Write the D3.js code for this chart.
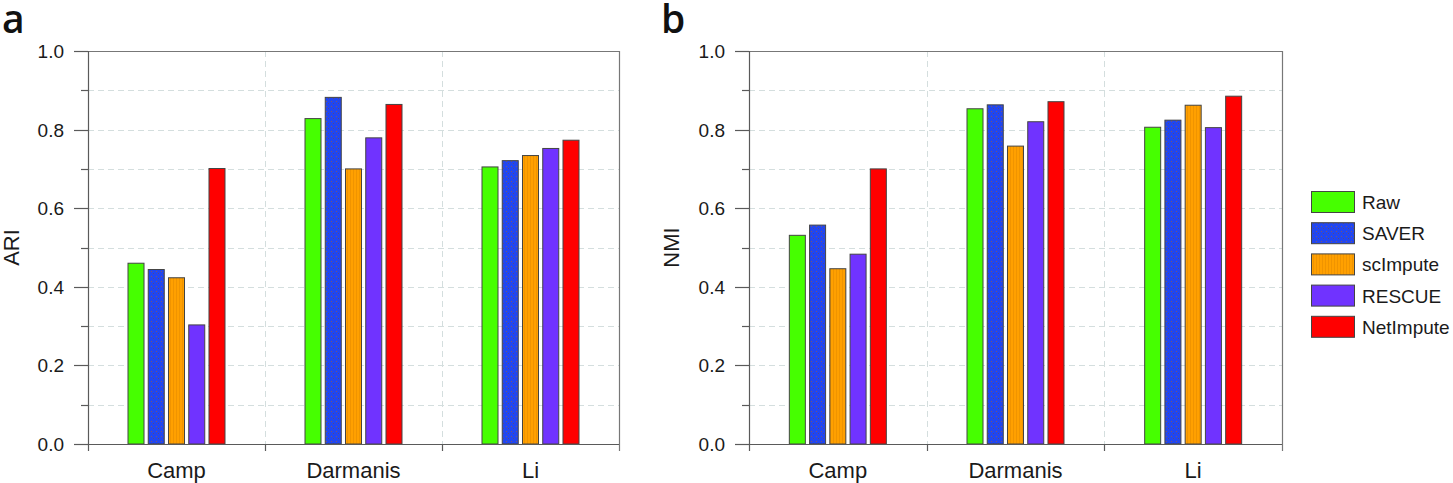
<!DOCTYPE html>
<html><head><meta charset="utf-8">
<script src="https://cdn.jsdelivr.net/npm/d3@7"></script>
<style>body{margin:0;background:#fff}svg{display:block}</style>
</head><body>
<svg id="chart" width="1453" height="483"></svg>
<script>
// ---- data ----
const categories = ["Camp", "Darmanis", "Li"];
const seriesNames = ["Raw", "SAVER", "scImpute", "RESCUE", "NetImpute"];
const yTickValues = [0, 0.2, 0.4, 0.6, 0.8, 1.0];
const yTickLabels = ["0.0", "0.2", "0.4", "0.6", "0.8", "1.0"];

// panel a: ARI
const ariRaw       = [0.460, 0.828, 0.705];
const ariSaver     = [0.444, 0.882, 0.721];
const ariScImpute  = [0.423, 0.700, 0.734];
const ariRescue    = [0.303, 0.779, 0.752];
const ariNetImpute = [0.701, 0.864, 0.773];

// panel b: NMI
const nmiRaw       = [0.531, 0.853, 0.806];
const nmiSaver     = [0.557, 0.863, 0.824];
const nmiScImpute  = [0.446, 0.758, 0.862];
const nmiRescue    = [0.483, 0.820, 0.805];
const nmiNetImpute = [0.700, 0.871, 0.885];

const seriesColors = ["#46ff00", "#2146f0", "#ffa000", "#7033ff", "#ff0000"];

// ---- drawing ----
const svg = d3.select("#chart");
const FONT = "'Liberation Sans', Arial, sans-serif";

const defs = svg.append("defs");
// textures
const pb = defs.append("pattern").attr("id", "pat1").attr("patternUnits", "userSpaceOnUse")
  .attr("width", 5).attr("height", 5);
pb.append("rect").attr("width", 5).attr("height", 5).attr("fill", seriesColors[1]);
pb.append("rect").attr("x", 1).attr("y", 1).attr("width", 1).attr("height", 1).attr("fill", "#7a5a70");
pb.append("rect").attr("x", 3).attr("y", 3).attr("width", 1).attr("height", 1).attr("fill", "#5a4a80");
const po = defs.append("pattern").attr("id", "pat2").attr("patternUnits", "userSpaceOnUse")
  .attr("width", 3).attr("height", 3);
po.append("rect").attr("width", 3).attr("height", 3).attr("fill", seriesColors[2]);
po.append("rect").attr("x", 2).attr("y", 0).attr("width", 1).attr("height", 3).attr("fill", "#f09400");
const fills = seriesColors.map((c, i) => i === 1 ? "url(#pat1)" : i === 2 ? "url(#pat2)" : c);

function panel(opts) {
  const { left, right, top, bottom, series, yLabel, yLabelX, letter, letterX } = opts;
  const g = svg.append("g");
  const y = d3.scaleLinear().domain([0, 1]).range([bottom, top]);
  const x0 = d3.scaleBand().domain(categories).range([left, right]).padding(0);

  // grid
  const minor = d3.range(1, 10).map(d => d / 10);
  g.selectAll(".hg").data(minor).join("line")
    .attr("x1", left).attr("x2", right)
    .attr("y1", d => Math.round(y(d)) + 0.5).attr("y2", d => Math.round(y(d)) + 0.5)
    .attr("stroke", "#d4dede").attr("stroke-width", 1).attr("stroke-dasharray", "6,4");
  g.selectAll(".vg").data(categories.slice(1)).join("line")
    .attr("x1", d => Math.round(x0(d)) + 0.5).attr("x2", d => Math.round(x0(d)) + 0.5)
    .attr("y1", top).attr("y2", bottom)
    .attr("stroke", "#d4dede").attr("stroke-width", 1).attr("stroke-dasharray", "6,4");

  // bars
  categories.forEach((cat, ci) => {
    const c = x0(cat) + x0.bandwidth() / 2;
    const x1 = d3.scaleBand().domain(seriesNames).range([c - 49, c + 49]).paddingInner(0.16).paddingOuter(0);
    g.selectAll(null).data(series.map((s, si) => ({ s: seriesNames[si], v: s[ci], i: si }))).join("rect")
      .attr("x", d => x1(d.s) + 0.5)
      .attr("width", x1.bandwidth() - 1)
      .attr("y", d => y(d.v))
      .attr("height", d => y(0) - y(d.v))
      .attr("fill", d => fills[d.i])
      .attr("stroke", "#444").attr("stroke-width", 1);
  });

  // frame
  const ax = "#5a5a5a";
  g.append("line").attr("x1", left - 14).attr("x2", right).attr("y1", top + 0.5).attr("y2", top + 0.5)
    .attr("stroke", "#777").attr("stroke-width", 1.2);
  g.append("line").attr("x1", right + 0.5).attr("x2", right + 0.5).attr("y1", top).attr("y2", bottom + 7)
    .attr("stroke", "#777").attr("stroke-width", 1.2);
  // y axis
  g.append("line").attr("x1", left + 0.5).attr("x2", left + 0.5).attr("y1", top).attr("y2", bottom + 7)
    .attr("stroke", ax).attr("stroke-width", 1.2);
  g.append("line").attr("x1", left - 14).attr("x2", right).attr("y1", bottom + 0.5).attr("y2", bottom + 0.5)
    .attr("stroke", ax).attr("stroke-width", 1.2);
  g.selectAll(".mt").data(yTickValues).join("line")
    .attr("x1", left - 14).attr("x2", left)
    .attr("y1", d => Math.round(y(d)) + 0.5).attr("y2", d => Math.round(y(d)) + 0.5)
    .attr("stroke", ax).attr("stroke-width", 1.2);
  g.selectAll(".nt").data([0.1, 0.3, 0.5, 0.7, 0.9]).join("line")
    .attr("x1", left - 7).attr("x2", left)
    .attr("y1", d => Math.round(y(d)) + 0.5).attr("y2", d => Math.round(y(d)) + 0.5)
    .attr("stroke", ax).attr("stroke-width", 1.2);
  g.selectAll(".tl").data(yTickValues).join("text")
    .attr("x", left - 24).attr("y", d => y(d) + 7)
    .attr("text-anchor", "end").attr("font-family", FONT).attr("font-size", 19).attr("fill", "#1a1a1a")
    .text((d, i) => yTickLabels[i]);
  // x ticks
  g.selectAll(".xt").data(categories.slice(1)).join("line")
    .attr("x1", d => Math.round(x0(d)) + 0.5).attr("x2", d => Math.round(x0(d)) + 0.5)
    .attr("y1", bottom).attr("y2", bottom + 7)
    .attr("stroke", ax).attr("stroke-width", 1.2);
  g.selectAll(".xl").data(categories).join("text")
    .attr("x", d => x0(d) + x0.bandwidth() / 2).attr("y", 478)
    .attr("text-anchor", "middle").attr("font-family", FONT).attr("font-size", 22).attr("fill", "#1a1a1a")
    .text(d => d);

  // y label
  g.append("text").attr("transform", `translate(${yLabelX},${(top + bottom) / 2}) rotate(-90)`)
    .attr("text-anchor", "middle").attr("font-family", FONT).attr("font-size", 22).attr("fill", "#1a1a1a")
    .text(yLabel);
  // panel letter
  g.append("text").attr("x", letterX).attr("y", 33)
    .attr("font-family", "'Open Sans', sans-serif").attr("font-size", 39).attr("font-weight", 600).attr("fill", "#111")
    .text(letter);
}

panel({ left: 88, right: 619, top: 51, bottom: 444,
  series: [ariRaw, ariSaver, ariScImpute, ariRescue, ariNetImpute],
  yLabel: "ARI", yLabelX: 19, letter: "a", letterX: 2 });
panel({ left: 749, right: 1282, top: 51, bottom: 444,
  series: [nmiRaw, nmiSaver, nmiScImpute, nmiRescue, nmiNetImpute],
  yLabel: "NMI", yLabelX: 679, letter: "b", letterX: 661 });

// legend
const lg = svg.append("g");
lg.selectAll("rect").data(seriesNames).join("rect")
  .attr("x", 1311.5).attr("y", (d, i) => 191.5 + i * 31.2)
  .attr("width", 43).attr("height", 21)
  .attr("fill", (d, i) => fills[i]).attr("stroke", "#444").attr("stroke-width", 1);
lg.selectAll("text").data(seriesNames).join("text")
  .attr("x", 1362).attr("y", (d, i) => 191.5 + i * 31.2 + 17.5)
  .attr("font-family", FONT).attr("font-size", 19).attr("fill", "#1a1a1a")
  .text(d => d);
</script>
</body></html>
